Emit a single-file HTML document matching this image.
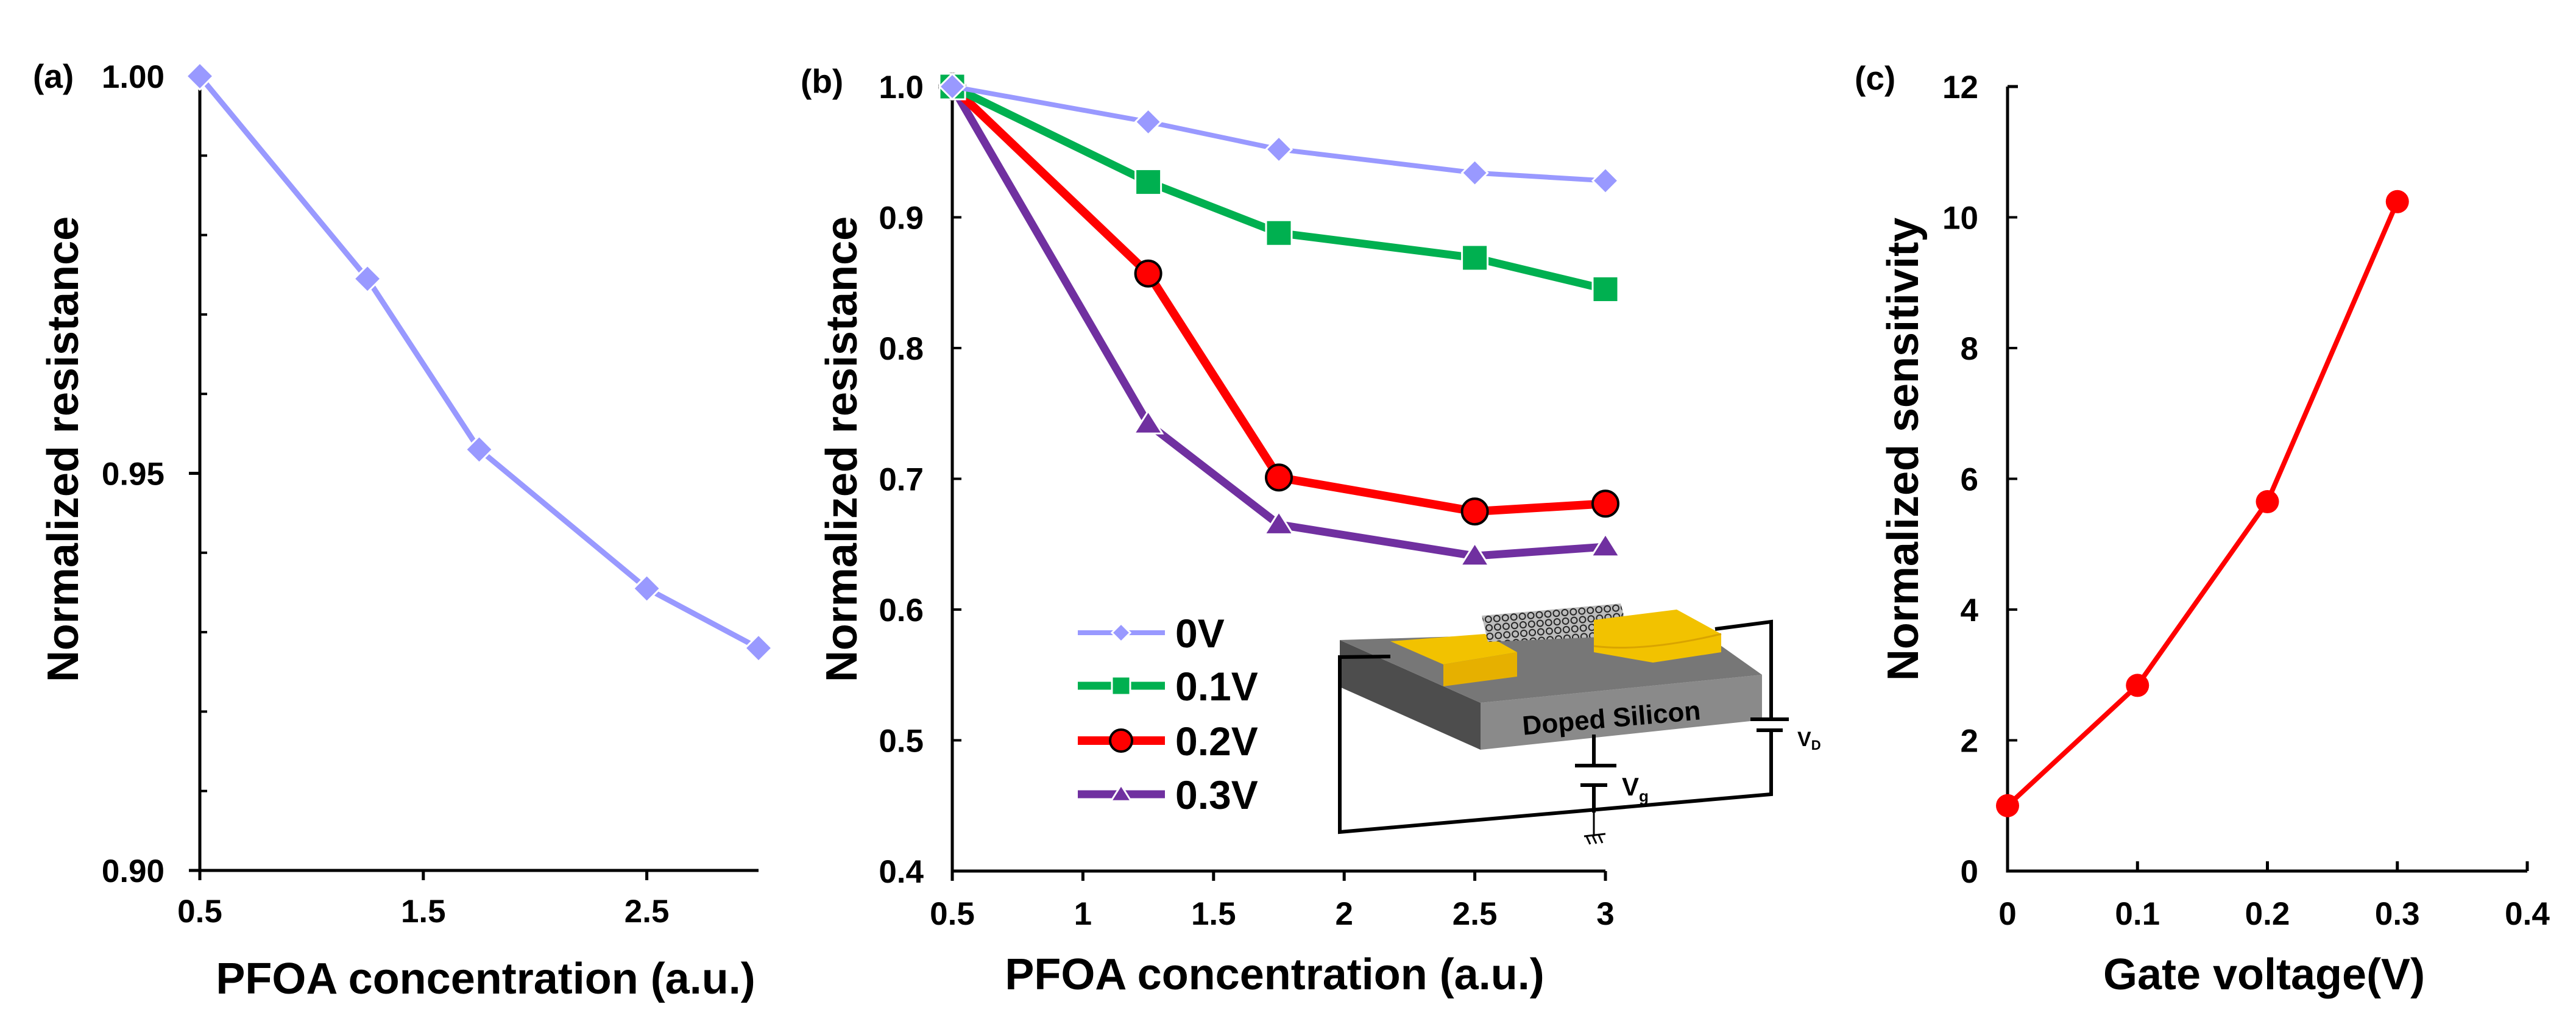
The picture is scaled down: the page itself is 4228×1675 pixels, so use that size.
<!DOCTYPE html>
<html><head><meta charset="utf-8"><style>
html,body{margin:0;padding:0;background:#fff}
svg{display:block}
text{font-family:"Liberation Sans",Arial,sans-serif;font-weight:bold;fill:#000}
</style></head><body>
<svg id="fig" xmlns="http://www.w3.org/2000/svg" width="4228" height="1675" viewBox="0 0 4228 1675">
<defs>
<pattern id="cnt" width="14" height="14" patternUnits="userSpaceOnUse" patternTransform="rotate(-5)">
<rect width="14" height="14" fill="#bdbdbd"/>
<circle cx="7" cy="7" r="5" fill="none" stroke="#222" stroke-width="2"/>
</pattern>
</defs>
<g id="pa"></g>
<g id="pb"></g>
<g id="inset">
  <polygon points="2199,1050 2430,1153 2430,1230 2199,1127" fill="#4d4d4d"/>
  <polygon points="2430,1153 2892,1107 2892,1181 2430,1230" fill="#8a8a8a"/>
  <polygon points="2199,1050 2786,1032 2892,1107 2430,1153" fill="#777"/>
  <polygon points="2282,1052 2437,1040 2490,1070 2369,1090" fill="#f2c200"/>
  <polygon points="2369,1090 2490,1070 2490,1110 2369,1126" fill="#e6b000"/>
  <polygon points="2432,1010 2660,990 2674,1043 2442,1053" fill="url(#cnt)"/>
  <polygon points="2616,1017 2752,1000 2825,1040 2825,1070 2713,1087 2616,1070" fill="#f2c200"/>
  <path d="M2616,1060 Q2700,1070 2825,1040" fill="none" stroke="#d9a400" stroke-width="3"/>
  <g fill="none" stroke="#000" stroke-width="6">
    <polyline points="2282,1077 2199,1078 2199,1365 2907,1303 2907,1198"/>
    <polyline points="2907,1180 2907,1020 2815,1032"/>
    <line x1="2873" y1="1180" x2="2936" y2="1180"/>
    <line x1="2883" y1="1198" x2="2926" y2="1198"/>
    <line x1="2616" y1="1205" x2="2616" y2="1256"/>
    <line x1="2585" y1="1256" x2="2653" y2="1256"/>
    <line x1="2594" y1="1288" x2="2638" y2="1288"/>
    <line x1="2616" y1="1288" x2="2616" y2="1333"/>
  </g>
  <g stroke="#000" stroke-width="3" fill="none">
    <line x1="2616" y1="1333" x2="2616" y2="1372"/>
    <line x1="2600" y1="1372" x2="2635" y2="1368"/>
    <line x1="2604" y1="1372" x2="2610" y2="1385"/>
    <line x1="2614" y1="1371" x2="2620" y2="1384"/>
    <line x1="2624" y1="1370" x2="2630" y2="1383"/>
  </g>
  <text x="2645" y="1193" font-size="44" text-anchor="middle" transform="rotate(-5 2645 1180)">Doped Silicon</text>
  <text x="2662" y="1305" font-size="42">V<tspan font-size="26" dy="10">g</tspan></text>
  <text x="2950" y="1224" font-size="34">V<tspan font-size="22" dy="6">D</tspan></text>
</g>
<g id="pc"></g>
</svg>
<script>
// Panel (a)
const aX = [0.5, 1.25, 1.75, 2.5, 3];
const aY = [1.0, 0.9745, 0.953, 0.9355, 0.928];
const aXTicks = ["0.5", "1.5", "2.5"];
const aXTickVals = [0.5, 1.5, 2.5];
const aYTicks = ["0.90", "0.95", "1.00"];
const aYTickVals = [0.90, 0.95, 1.00];
// Panel (b)
const bX = [0.5, 1.25, 1.75, 2.5, 3];
const bSeries0V = [1.0, 0.973, 0.952, 0.934, 0.928];
const bSeries01V = [1.0, 0.927, 0.888, 0.869, 0.845];
const bSeries02V = [1.0, 0.857, 0.701, 0.675, 0.681];
const bSeries03V = [1.0, 0.742, 0.665, 0.641, 0.648];
const bLegend = ["0V", "0.1V", "0.2V", "0.3V"];
const bXTicks = ["0.5", "1", "1.5", "2", "2.5", "3"];
const bYTicks = ["0.4", "0.5", "0.6", "0.7", "0.8", "0.9", "1.0"];
// Panel (c)
const cX = [0, 0.1, 0.2, 0.3];
const cY = [1.0, 2.84, 5.65, 10.24];
const cXTicks = ["0", "0.1", "0.2", "0.3", "0.4"];
const cYTicks = ["0", "2", "4", "6", "8", "10", "12"];

const NS = "http://www.w3.org/2000/svg";
function mk(parent, tag, attrs, txt) {
  const e = document.createElementNS(NS, tag);
  for (const k in attrs) e.setAttribute(k, attrs[k]);
  if (txt !== undefined) e.textContent = txt;
  parent.appendChild(e);
  return e;
}
function lin(d0, d1, r0, r1) { return v => r0 + (v - d0) / (d1 - d0) * (r1 - r0); }

function marker(g, type, x, y, color, s) {
  let e;
  if (type === "diamond") {
    e = mk(g, "polygon", {points: `${x},${y-s} ${x+s},${y} ${x},${y+s} ${x-s},${y}`, fill: color, stroke: "#fff", "stroke-width": 3});
  } else if (type === "square") {
    e = mk(g, "rect", {x: x-s, y: y-s, width: 2*s, height: 2*s, fill: color, stroke: "#fff", "stroke-width": 3});
  } else if (type === "circle") {
    e = mk(g, "circle", {cx: x, cy: y, r: s, fill: color, stroke: "#000", "stroke-width": 4});
  } else if (type === "dot") {
    e = mk(g, "circle", {cx: x, cy: y, r: s, fill: color});
  } else {
    e = mk(g, "polygon", {points: `${x},${y-s} ${x+s*1.1},${y+s*0.75} ${x-s*1.1},${y+s*0.75}`, fill: color, stroke: "#fff", "stroke-width": 3});
  }
  
  
}
function series(g, xs, ys, sx, sy, color, w, type, s, name) {
  const sg = mk(g, "g", {});
  
  
  const pl = mk(sg, "polyline", {points: xs.map((v, i) => sx(v) + "," + sy(ys[i])).join(" "), fill: "none", stroke: color, "stroke-width": w, "stroke-linejoin": "round"});
  
  
  xs.forEach((v, i) => marker(sg, type, sx(v), sy(ys[i]), color, s));
}
function axes(g, x0, x1, y0, y1) {
  const a = mk(g, "path", {d: `M${x0},${y1} V${y0} H${x1}`, fill: "none", stroke: "#000", "stroke-width": 5});
  
  
}

// ---- Panel a
(function () {
  const g = document.getElementById("pa");
  const sx = lin(0.5, 3, 328, 1245), sy = lin(0.9, 1.0, 1428, 125);
  axes(g, 328, 1245, 1428, 125);
  aYTickVals.forEach((v, i) => {
    mk(g, "line", {x1: 310, x2: 328, y1: sy(v), y2: sy(v), stroke: "#000", "stroke-width": 5});
    const t = mk(g, "text", {x: 270, y: sy(v) + 19, "font-size": 53, "text-anchor": "end"}, aYTicks[i]);
    
    
  });
  for (let k = 1; k < 10; k++) {
    if (k === 5) continue;
    const v = 0.9 + k * 0.01;
    mk(g, "line", {x1: 328, x2: 340, y1: sy(v), y2: sy(v), stroke: "#000", "stroke-width": 4});
  }
  aXTickVals.forEach((v, i) => {
    mk(g, "line", {x1: sx(v), x2: sx(v), y1: 1428, y2: 1444, stroke: "#000", "stroke-width": 5});
    const t = mk(g, "text", {x: sx(v), y: 1513, "font-size": 53, "text-anchor": "middle"}, aXTicks[i]);
    
    
  });
  series(g, aX, aY, sx, sy, "#9999ff", 9, "diamond", 22, "series-a");
  let t = mk(g, "text", {x: 797, y: 1630, "font-size": 72, "text-anchor": "middle"}, "PFOA concentration (a.u.)");
   
  t = mk(g, "text", {x: 0, y: 0, "font-size": 72, "text-anchor": "middle", transform: "translate(128,737) rotate(-90)"}, "Normalized resistance");
   
  t = mk(g, "text", {x: 54, y: 144, "font-size": 55}, "(a)");
   
})();

// ---- Panel b
(function () {
  const g = document.getElementById("pb");
  const sx = lin(0.5, 3, 1563, 2635), sy = lin(0.4, 1.0, 1429, 142);
  axes(g, 1563, 2635, 1429, 165);
  bYTicks.forEach(s => {
    const v = parseFloat(s);
    mk(g, "line", {x1: 1563, x2: 1578, y1: sy(v), y2: sy(v), stroke: "#000", "stroke-width": 4});
    const t = mk(g, "text", {x: 1516, y: sy(v) + 19, "font-size": 53, "text-anchor": "end"}, s);
     
  });
  bXTicks.forEach(s => {
    const v = parseFloat(s);
    mk(g, "line", {x1: sx(v), x2: sx(v), y1: 1429, y2: 1445, stroke: "#000", "stroke-width": 5});
    const t = mk(g, "text", {x: sx(v), y: 1517, "font-size": 53, "text-anchor": "middle"}, s);
     
  });
  const styles = [["#9999ff", 8, "diamond", 21], ["#00b050", 13, "square", 21], ["#ff0000", 14, "circle", 21], ["#7030a0", 13, "triangle", 21]];
  const data = [bSeries0V, bSeries01V, bSeries02V, bSeries03V];
  [3, 2, 1, 0].forEach(i => series(g, bX, data[i], sx, sy, styles[i][0], styles[i][1], styles[i][2], styles[i][3], "series-" + bLegend[i].replace(".", "")));
  const ly = [1038, 1125, 1215, 1303];
  bLegend.forEach((lab, i) => {
    const lg = mk(g, "g", {});
    
    
    mk(lg, "line", {x1: 1769, x2: 1912, y1: ly[i], y2: ly[i], stroke: styles[i][0], "stroke-width": styles[i][1]});
    marker(lg, styles[i][2], 1840, ly[i], styles[i][0], styles[i][2] === "circle" ? 18 : 15);
    mk(lg, "text", {x: 1929, y: ly[i] + 24, "font-size": 66}, lab);
  });
  let t = mk(g, "text", {x: 2092, y: 1623, "font-size": 72, "text-anchor": "middle"}, "PFOA concentration (a.u.)");
   
  t = mk(g, "text", {x: 0, y: 0, "font-size": 72, "text-anchor": "middle", transform: "translate(1406,737) rotate(-90)"}, "Normalized resistance");
   
  t = mk(g, "text", {x: 1314, y: 152, "font-size": 55}, "(b)");
   
})();

// ---- Panel c
(function () {
  const g = document.getElementById("pc");
  const sx = lin(0, 0.4, 3295, 4148), sy = lin(0, 12, 1429, 142);
  axes(g, 3295, 4148, 1429, 142);
  mk(g, "line", {x1: 3295, x2: 3312, y1: 142, y2: 142, stroke: "#000", "stroke-width": 5});
  cYTicks.forEach(s => {
    const v = parseFloat(s);
    mk(g, "line", {x1: 3295, x2: 3311, y1: sy(v), y2: sy(v), stroke: "#000", "stroke-width": 4});
    const t = mk(g, "text", {x: 3247, y: sy(v) + 19, "font-size": 53, "text-anchor": "end"}, s);
     
  });
  cXTicks.forEach(s => {
    const v = parseFloat(s);
    mk(g, "line", {x1: sx(v), x2: sx(v), y1: 1429, y2: 1413, stroke: "#000", "stroke-width": 5});
    const t = mk(g, "text", {x: sx(v), y: 1517, "font-size": 53, "text-anchor": "middle"}, s);
     
  });
  series(g, cX, cY, sx, sy, "#ff0000", 8, "dot", 19, "sensitivity-series");
  let t = mk(g, "text", {x: 3716, y: 1623, "font-size": 72, "text-anchor": "middle"}, "Gate voltage(V)");
   
  t = mk(g, "text", {x: 0, y: 0, "font-size": 72, "text-anchor": "middle", transform: "translate(3148,737) rotate(-90)"}, "Normalized sensitivity");
   
  t = mk(g, "text", {x: 3044, y: 147, "font-size": 55}, "(c)");
   
})();
</script>
</body></html>
